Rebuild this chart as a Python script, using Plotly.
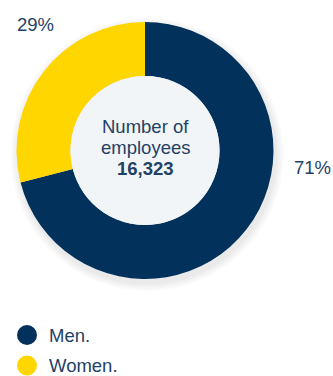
import plotly.graph_objects as go

categories = ["Men.", "Women."]
values = [71, 29]
colors = ["#02325c", "#ffd600"]
total_label = "16,323"
center_lines = ["Number of", "employees"]

W, H = 333, 376
cx, cy, R = 145, 150.5, 128.5
hole = 0.58
text_color = "#1f4166"
font_family = "Liberation Sans, Arial, sans-serif"
fs = 18.5

def px_x(x):
    return x / W

def px_y(y):
    return 1 - y / H

fig = go.Figure()

# soft shadow
shapes = []
for i, a in enumerate([0.018, 0.018, 0.02, 0.025]):
    r = R + 8 - i * 2
    shapes.append(dict(type="circle", xref="paper", yref="paper",
                       x0=px_x(cx - r + 2), x1=px_x(cx + r + 2),
                       y0=px_y(cy + r + 4), y1=px_y(cy - r + 4),
                       fillcolor=f"rgba(0,0,0,{a})", line=dict(width=0), layer="below"))

fig.add_trace(go.Pie(
    labels=categories, values=values, hole=hole, sort=False,
    direction="clockwise", rotation=0,
    marker=dict(colors=colors, line=dict(width=0)),
    textinfo="none", hoverinfo="label+percent", showlegend=False,
    domain=dict(x=[px_x(cx - R), px_x(cx + R)], y=[px_y(cy + R), px_y(cy - R)]),
))

# hole fill
r_in = R * hole
shapes.append(dict(type="circle", xref="paper", yref="paper",
                   x0=px_x(cx - r_in), x1=px_x(cx + r_in),
                   y0=px_y(cy + r_in), y1=px_y(cy - r_in),
                   fillcolor="#f2f5f7", line=dict(width=0), layer="above"))

annotations = []
center_texts = center_lines + ["<b>" + total_label + "</b>"]
for t, y in zip(center_texts, [127, 147.5, 168.5]):
    annotations.append(dict(xref="paper", yref="paper", x=px_x(cx), y=px_y(y),
                            text=t, showarrow=False,
                            font=dict(size=fs, color=text_color, family=font_family),
                            xanchor="center", yanchor="middle", align="center"))

# percentage labels
pct_pos = [(312, 167), (35, 25)]
for v, (x, y) in zip(values, pct_pos):
    annotations.append(dict(xref="paper", yref="paper", x=px_x(x), y=px_y(y),
                            text=f"{v}%", showarrow=False,
                            font=dict(size=fs, color=text_color, family=font_family),
                            xanchor="center", yanchor="middle"))

# legend
leg_y = [335, 365.5]
for lab, col, y in zip(categories, colors, leg_y):
    shapes.append(dict(type="circle", xref="paper", yref="paper",
                       x0=px_x(17), x1=px_x(37), y0=px_y(y + 10), y1=px_y(y - 10),
                       fillcolor=col, line=dict(width=0)))
    annotations.append(dict(xref="paper", yref="paper", x=px_x(47), y=px_y(y),
                            text=lab, showarrow=False,
                            font=dict(size=fs, color=text_color, family=font_family),
                            xanchor="left", yanchor="middle"))

fig.update_layout(width=W, height=H, margin=dict(l=0, r=0, t=0, b=0),
                  paper_bgcolor="white", plot_bgcolor="white",
                  shapes=shapes, annotations=annotations)

fig.write_html("out.html")
